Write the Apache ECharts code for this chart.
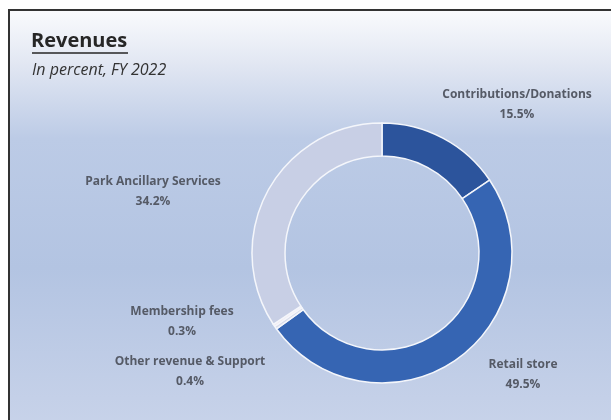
<!DOCTYPE html>
<html>
<head>
<meta charset="utf-8">
<script src="https://cdn.jsdelivr.net/npm/echarts@6/dist/echarts.min.js"></script>
<style>
html, body { margin: 0; padding: 0; background: #fff; }
#chart { width: 611px; height: 420px; }
</style>
</head>
<body>
<div id="chart"></div>
<script>
// revenue categories, in drawing order (clockwise from 12 o'clock)
var categories = ['Contributions/Donations', 'Retail store', 'Other revenue & Support', 'Membership fees', 'Park Ancillary Services'];
var shares = [15.5, 49.5, 0.4, 0.3, 34.2];
var sliceColors = ['#2c549c', '#3665b3', '#d9dcea', '#f2e9f0', '#c8cfe5'];

// where Excel put the data labels (centre of the two-line block)
var labelPos = [[517, 105], [523, 375], [190, 372], [182, 322], [153, 192]];

var myChart = echarts.init(document.getElementById('chart'));

var pieData = [];
for (var i = 0; i < categories.length; i++) {
    pieData.push({ name: categories[i], value: shares[i], itemStyle: { color: sliceColors[i] } });
}

var option = {
    animation: false,
    graphic: [{
        type: 'rect',
        z: -10,
        shape: { x: 9, y: 10, width: 620, height: 430 },
        style: {
            fill: new echarts.graphic.LinearGradient(0, 0, 0, 1, [
                { offset: 0, color: '#fafbfd' },
                { offset: 0.12, color: '#e3e8f3' },
                { offset: 0.3, color: '#bccbe6' },
                { offset: 0.6, color: '#b3c4e2' },
                { offset: 0.9, color: '#c4d0e8' },
                { offset: 1, color: '#c9d4ea' }
            ]),
            stroke: '#333',
            lineWidth: 2
        }
    }, {
        type: 'text',
        left: 31, top: 31,
        style: { text: 'Revenues', font: 'bold 20px "Open Sans"', fill: '#262626' }
    }, {
        type: 'line',
        shape: { x1: 32, y1: 53, x2: 128, y2: 53 },
        style: { stroke: '#262626', lineWidth: 1.5 }
    }, {
        type: 'text',
        left: 32, top: 62,
        style: { text: 'In percent, FY 2022', font: 'italic 16px "Open Sans"', fill: '#333' }
    }],
    series: [{
        type: 'pie',
        center: [382, 253],
        radius: [97, 130],
        startAngle: 90,
        clockwise: true,
        avoidLabelOverlap: false,
        itemStyle: { borderColor: '#f4f6fb', borderWidth: 1.5 },
        label: {
            show: true,
            formatter: '{b}\n{c}%',
            fontFamily: 'Open Sans',
            fontWeight: 'bold',
            fontSize: 12,
            lineHeight: 20,
            color: '#555a66',
            align: 'center'
        },
        labelLine: { show: false },
        labelLayout: function (params) {
            var p = labelPos[params.dataIndex];
            return { x: p[0], y: p[1], align: 'center', verticalAlign: 'middle' };
        },
        data: pieData
    }]
};

myChart.setOption(option);
</script>
</body>
</html>
